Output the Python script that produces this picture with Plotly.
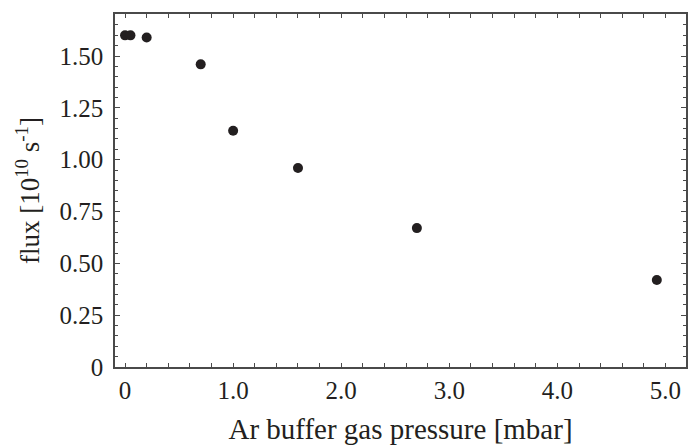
import plotly.graph_objects as go

pressure = [0.0, 0.05, 0.2, 0.7, 1.0, 1.6, 2.7, 4.92]
flux = [1.60, 1.60, 1.59, 1.46, 1.14, 0.96, 0.67, 0.42]

x_tickvals = [0, 1, 2, 3, 4, 5]
x_ticktext = ["0", "1.0", "2.0", "3.0", "4.0", "5.0"]
y_tickvals = [0, 0.25, 0.5, 0.75, 1.0, 1.25, 1.5]
y_ticktext = ["0", "0.25", "0.50", "0.75", "1.00", "1.25", "1.50"]

ink = "#231f20"
axcol = "#4a4a4a"
font = "Liberation Serif"

fig = go.Figure()
fig.add_trace(go.Scatter(
    x=pressure, y=flux, mode="markers",
    marker=dict(size=10, color=ink, line=dict(width=0)),
    showlegend=False,
))

fig.update_layout(
    width=690, height=445,
    margin=dict(l=115, r=4, t=14, b=78),
    paper_bgcolor="white", plot_bgcolor="white",
    font=dict(family=font, color=ink, size=25),
    xaxis=dict(
        range=[-0.093, 5.19],
        tickvals=x_tickvals, ticktext=x_ticktext,
        ticks="inside", ticklen=4, tickwidth=1.2, tickcolor=axcol,
        minor=dict(dtick=0.2, tick0=0, ticks="inside", ticklen=4, tickwidth=1.2, tickcolor=axcol),
        showline=True, linecolor=axcol, linewidth=1.5, mirror="allticks",
        showgrid=False, zeroline=False, automargin=False,
        tickfont=dict(family=font, size=25, color=ink),
        title=dict(text="Ar buffer gas pressure [mbar]", font=dict(family=font, size=29, color=ink), standoff=20),
    ),
    yaxis=dict(
        range=[0, 1.703],
        tickvals=y_tickvals, ticktext=y_ticktext,
        ticks="inside", ticklen=5, tickwidth=1.2, tickcolor=axcol,
        minor=dict(dtick=0.05, tick0=0, ticks="inside", ticklen=3, tickwidth=1.2, tickcolor=axcol),
        showline=True, linecolor=axcol, linewidth=1.5, mirror="allticks",
        showgrid=False, zeroline=False, automargin=False,
        ticklabelstandoff=5,
        tickfont=dict(family=font, size=25, color=ink),
        title=dict(text="flux [10<sup>10</sup> s<sup>-1</sup>]", font=dict(family=font, size=27, color=ink), standoff=12),
    ),
)

fig.write_html("out.html")
